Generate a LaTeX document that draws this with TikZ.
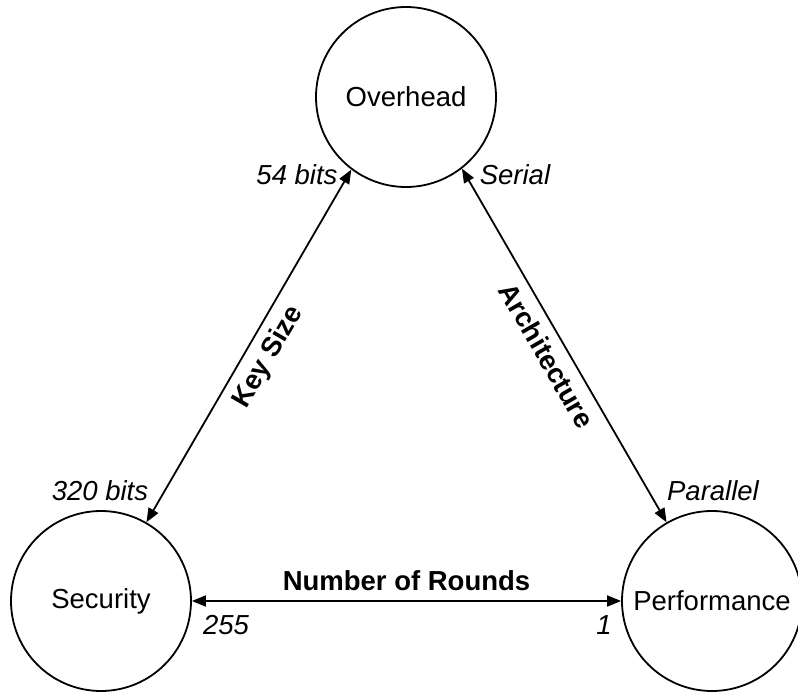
\documentclass[tikz,border=0pt]{standalone}
\usepackage{fontspec}
\setmainfont{Liberation Sans}
\usetikzlibrary{arrows.meta}

\begin{document}
\begin{tikzpicture}[x=1pt, y=-1pt,
  metric/.style={draw, circle, line width=1.8pt, minimum size=180pt, inner sep=0pt, font=\fontsize{27.5}{33}\selectfont},
  tradeoff/.style={{Triangle[length=14pt,width=11pt]}-{Triangle[length=14pt,width=11pt]}, line width=1.8pt},
  axislabel/.style={font=\bfseries\fontsize{27.5}{33}\selectfont, inner sep=9pt},
  bound/.style={font=\itshape\fontsize{27.5}{33}\selectfont, inner sep=0pt}]
\useasboundingbox (0,0) rectangle (798,692);
\node[metric] (ovh) at (406,97) {Overhead};
\node[metric] (sec) at (101,601) {Security};
\node[metric] (perf) at (712,601) {Performance};
\draw[tradeoff] (sec.60) -- node[axislabel, sloped, below] {Key Size} (ovh.233);
\draw[tradeoff] (ovh.308) -- node[axislabel, sloped, below] {Architecture} (perf.120);
\draw[tradeoff] (sec.east) -- node[axislabel, above] {Number of Rounds} (perf.west);
\path
(297,175) node[bound] (ks-max) {54 bits};
\path
(100,491) node[bound] (ks-min) {320 bits};
\path
(515,175) node[bound] (arch-a) {Serial};
\path
(713,491) node[bound] (arch-b) {Parallel};
\path
(226,625) node[bound] (nr-max) {255};
\path
(604,625) node[bound] (nr-min) {1};
\end{tikzpicture}
\end{document}
